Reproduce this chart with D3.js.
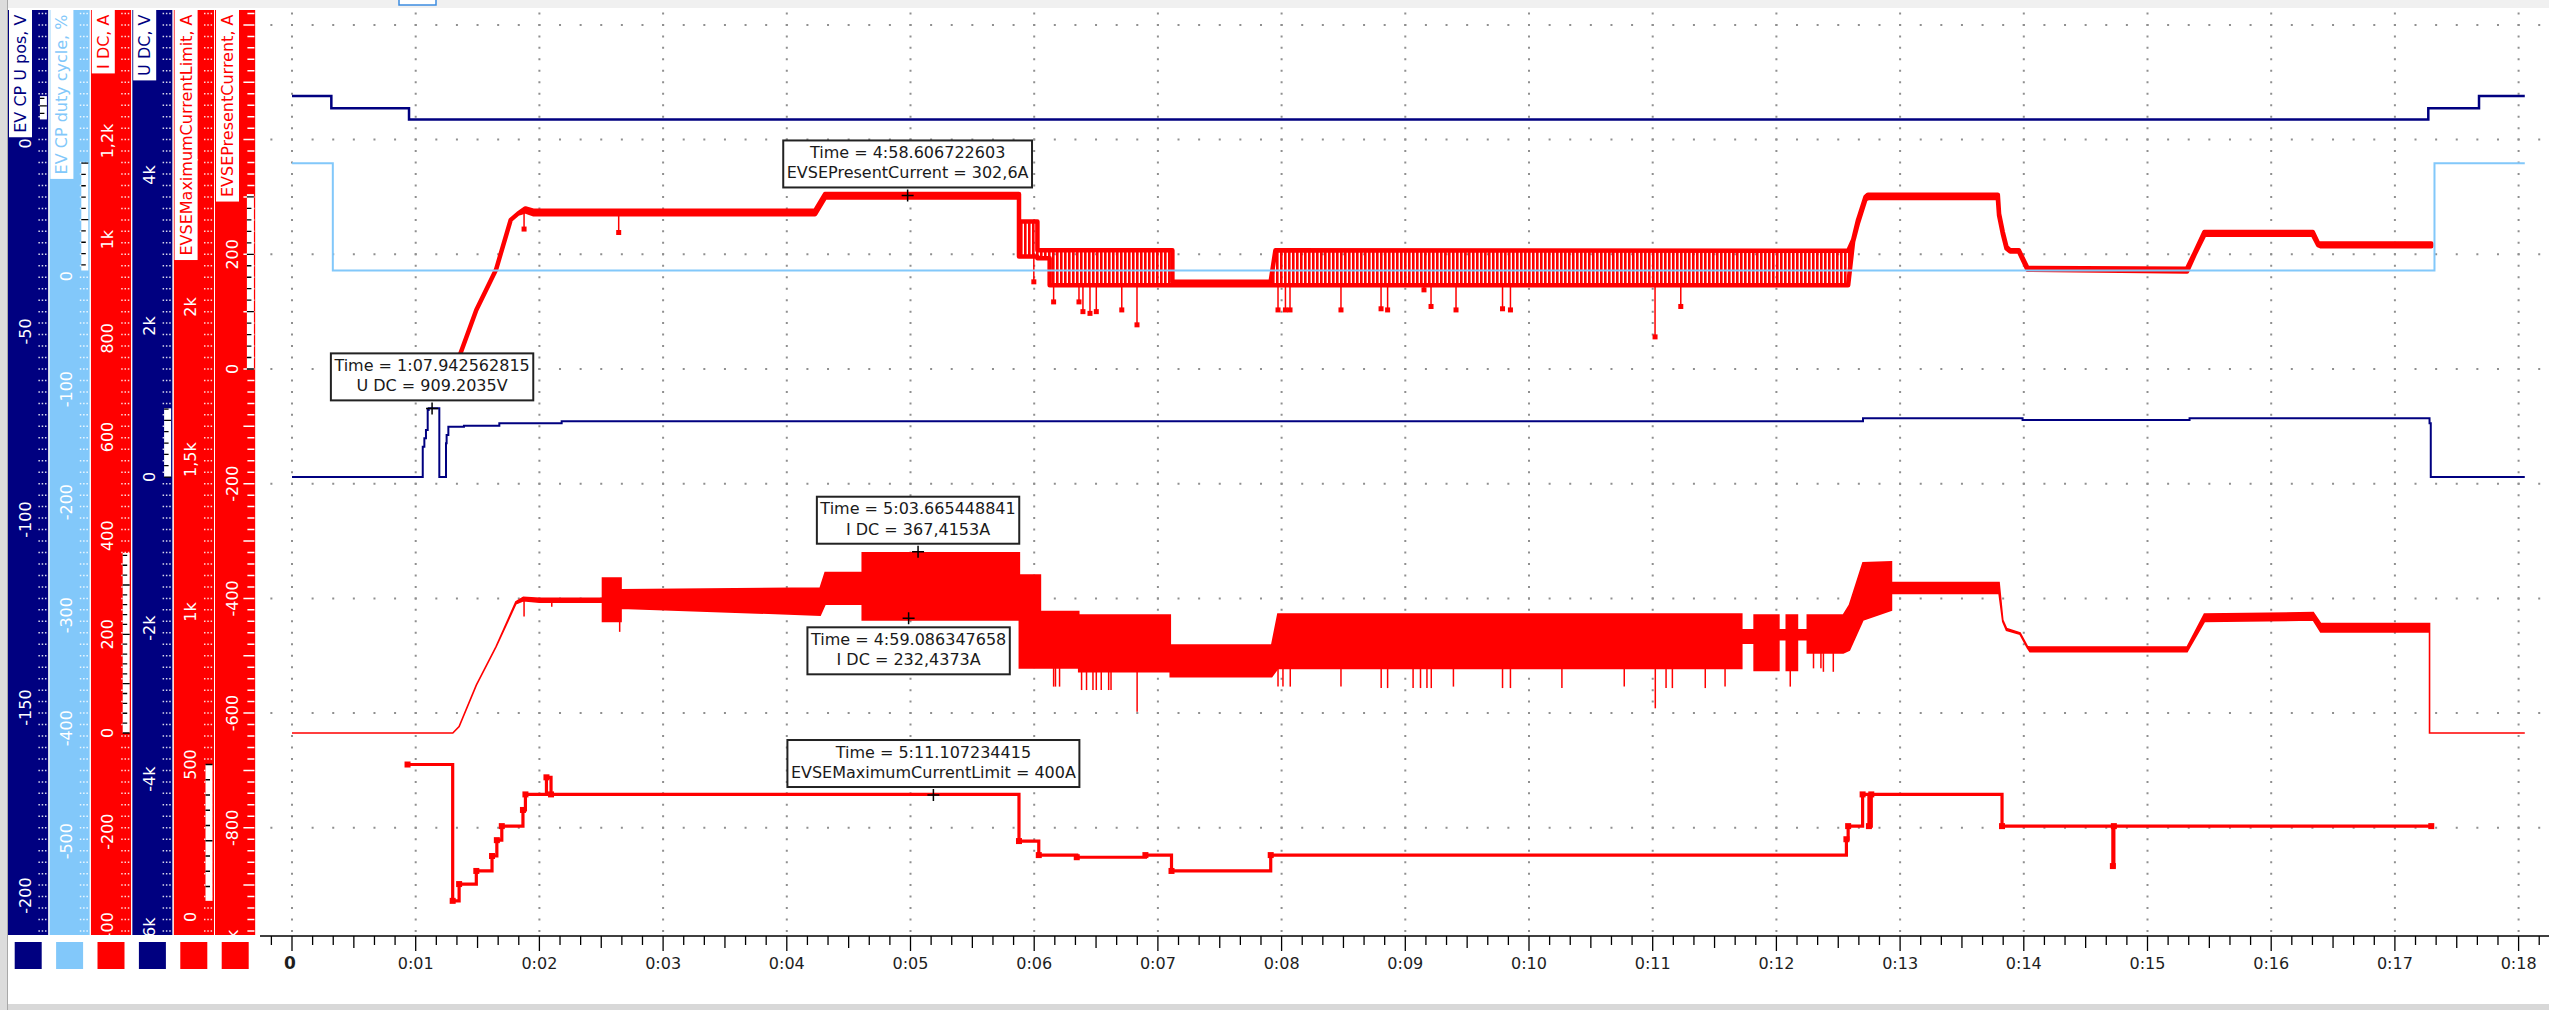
<!DOCTYPE html>
<html lang="en">
<head>
<meta charset="UTF-8" />
<title>charging trace</title>
<style>
  * { margin:0; padding:0; box-sizing:border-box; }
  body { background:#fff; overflow:hidden; font-family:'DejaVu Sans',Verdana,sans-serif; }
  svg { display:block; }
  .grid { stroke:#8f8f8f; stroke-width:2; fill:none; }
  .tick-lbl { font-size:16px; fill:#fff; }
  .time-lbl { font-size:16px; fill:#1e1e1e; }
  .note text { font-size:16px; fill:#1a1a1a; }
</style>
</head>
<body>
<script src="https://d3js.org/d3.v7.min.js"></script>
<script>
  const W = 2549, H = 1010;

  // ---- signals, time in minutes ----
  const cpT = [0, 0.318, 0.946, 17.27, 17.68, 18.05];
  const cpV = [12.6, 9.4, 6.4, 9.4, 12.6, 12.6];

  const dutyT = [0, 0.33, 17.32, 18.05];
  const dutyV = [100, 5, 100, 100];

  const udcT = [0, 1.057, 1.070, 1.083, 1.097, 1.105, 1.191, 1.245, 1.250, 1.264, 1.390, 1.676, 2.180, 12.70, 13.99, 15.34, 17.28, 17.29, 18.05];
  const udcV = [0, 401, 512, 622, 887, 910, 0, 446, 556, 666, 680, 711, 740, 777, 755, 777, 711, 0, 0];

  // I DC is noisy: upper / lower edge of the band
  const idcT  = [0, 1.30, 1.351, 1.49, 1.65, 1.81, 1.87, 2.0, 2.51, 2.51, 2.66, 2.66, 4.27, 4.31, 4.61, 4.61, 5.88, 5.88, 6.05, 6.05, 6.36, 6.36, 7.10, 7.10, 7.92, 7.97, 11.72, 11.72, 11.82, 11.82, 12.02, 12.02, 12.08, 12.08, 12.17, 12.17, 12.25, 12.25, 12.54, 12.59, 12.70, 12.93, 12.93, 13.80, 13.83, 13.86, 13.97, 14.03, 14.05, 15.32, 15.46, 16.34, 16.40, 17.28, 17.28, 18.05];
  const idcHi = [0, 0, 13, 97, 175, 266, 275, 273, 273, 314, 314, 290, 294, 325, 325, 365, 365, 320, 320, 246, 246, 239, 239, 178, 178, 241, 241, 209, 209, 239, 239, 209, 209, 239, 239, 209, 209, 239, 239, 259, 345, 347, 305, 305, 229, 212, 203, 175, 174, 174, 241, 244, 222, 222, 0, 0];
  const idcLo = [0, 0, 13, 97, 175, 262, 268, 265, 265, 226, 226, 253, 239, 261, 261, 229, 229, 132, 132, 132, 132, 124, 124, 114, 114, 131, 131, 182, 182, 127, 127, 189, 189, 127, 127, 189, 189, 162, 162, 168, 229, 249, 283, 283, 226, 208, 200, 172, 165, 165, 226, 229, 205, 205, 0, 0];
  const idcDipT = [1.876, 2.10, 2.649, 6.157, 6.172, 6.205, 6.383, 6.423, 6.475, 6.502, 6.542, 6.602, 6.621, 6.832, 7.971, 8.011, 8.070, 8.480, 8.805, 8.857, 9.063, 9.123, 9.175, 9.210, 9.389, 9.786, 9.850, 10.266, 10.770, 11.021, 11.108, 11.159, 11.425, 11.585, 12.112, 12.30, 12.36, 12.38, 12.46];
  const idcDipV = [236, 256, 205, 94, 94, 94, 87, 87, 87, 87, 87, 87, 87, 43, 94, 94, 94, 94, 91, 91, 91, 91, 91, 91, 94, 91, 91, 91, 94, 50, 91, 91, 91, 94, 94, 131, 131, 124, 124];

  const presT  = [1.30, 1.363, 1.49, 1.649, 1.768, 1.827, 1.887, 1.95, 4.229, 4.309, 5.877, 5.877, 6.026, 6.026, 6.125, 6.125, 7.117, 7.117, 7.911, 7.95, 12.58, 12.62, 12.66, 12.72, 12.74, 13.79, 13.80, 13.83, 13.86, 13.89, 13.96, 14.03, 15.319, 15.38, 15.46, 16.336, 16.38, 16.40, 17.294];
  const presHi = [0, 28, 103, 173, 260, 271, 280, 276, 276, 305, 305, 257, 257, 207, 207, 207, 207, 152, 152, 207, 206, 225, 260, 300, 304, 304, 271, 239, 213, 207, 207, 176, 175, 202, 239, 239, 219, 219, 219];
  const presLo = [0, 28, 103, 173, 260, 271, 275, 270, 270, 299, 299, 196, 196, 193, 193, 146, 146, 146, 146, 146, 146, 222, 255, 296, 298, 298, 268, 236, 210, 205, 205, 173, 170, 199, 234, 234, 216, 214, 214];
  const presDipT = [1.876, 2.641, 5.997, 6.157, 6.362, 6.394, 6.451, 6.502, 6.708, 6.831, 7.971, 8.031, 8.068, 8.480, 8.804, 8.857, 9.151, 9.208, 9.410, 9.786, 9.850, 11.019, 11.227];
  const presDipV = [244, 238, 152, 117, 117, 100, 97, 100, 103, 77, 103, 103, 103, 103, 105, 103, 138, 109, 103, 105, 103, 56, 109];

  const maxT = [0.934, 1.299, 1.351, 1.490, 1.617, 1.656, 1.696, 1.867, 1.887, 2.057, 2.094, 5.877, 6.037, 6.344, 6.899, 7.110, 7.912, 12.566, 12.58, 12.697, 12.748, 12.767, 13.824, 14.720, 14.728, 17.294];
  const maxV = [500, 53, 108, 151, 200, 252, 298, 351, 402, 458, 402, 249, 203, 196, 203, 151, 203, 255, 298, 402, 298, 402, 298, 167, 298, 298];

  // ---- left axis strips ----
  const axisNames = ['EV CP U pos, V', 'EV CP duty cycle, %', 'I DC, A', 'U DC, V', 'EVSEMaximumCurrentLimit, A', 'EVSEPresentCurrent, A'];
  const axisColors = ['#000080', '#82c8fa', '#ff0000', '#000080', '#ff0000', '#ff0000'];
  const axisMin = [-210.5, -583, -409.5, -6065, -59, -987];
  const axisMax = [35.5, 235.5, 1465.5, 6185, 2974, 626];
  const cpTicks = [0, -50, -100, -150, -200];
  const dutyTicks = [200, 100, 0, -100, -200, -300, -400, -500];
  const idcTicks = [1200, 1000, 800, 600, 400, 200, 0, -200, -400];
  const udcTicks = [6000, 4000, 2000, 0, -2000, -4000, -6000];
  const maxTicks = [2500, 2000, 1500, 1000, 500, 0];
  const presTicks = [600, 400, 200, 0, -200, -400, -600, -800, -1000];
  const rulerStep = [2, 10, 20, 150, 50, 20];

  // ---- time axis ----
  const timeTicks = [0, 1, 2, 3, 4, 5, 6, 7, 8, 9, 10, 11, 12, 13, 14, 15, 16, 17, 18];
  const timeLabels = ['0', '0:01', '0:02', '0:03', '0:04', '0:05', '0:06', '0:07', '0:08', '0:09', '0:10', '0:11', '0:12', '0:13', '0:14', '0:15', '0:16', '0:17', '0:18'];

  // ---- measurement cursors ----
  const curTime = ['4:58.606722603', '1:07.942562815', '5:03.665448841', '4:59.086347658', '5:11.107234415'];
  const curAxis = [5, 3, 2, 2, 4];
  const curValue = [302.6, 909.2035, 367.4153, 232.4373, 400];
  const curText = ['EVSEPresentCurrent = 302,6A', 'U DC = 909.2035V', 'I DC = 367,4153A', 'I DC = 232,4373A', 'EVSEMaximumCurrentLimit = 400A'];
  const curBelow = [false, false, false, true, false];

  const xs = d3.scaleLinear().domain([0, 18]).range([292, 2518.6]);
  const ys = axisMin.map((m, i) => d3.scaleLinear().domain([m, axisMax[i]]).range([935, 10]));
  const [yCp, yDuty, yIdc, yUdc, yMax, yPres] = ys;

  const svg = d3.select('body').append('svg').attr('width', W).attr('height', H);
  const defs = svg.append('defs');
  defs.append('clipPath').attr('id', 'plotclip').append('rect')
      .attr('x', 258).attr('y', 9).attr('width', W - 258).attr('height', 927);
  // dense sample lines of the present-current trace
  defs.append('pattern').attr('id', 'samples').attr('patternUnits', 'userSpaceOnUse')
      .attr('width', 4).attr('height', 10)
    .append('rect').attr('width', 2.6).attr('height', 10).attr('fill', '#ff0000');

  // frame bits
  svg.append('rect').attr('width', W).attr('height', 8).attr('fill', '#f0f0f0');
  svg.append('rect').attr('x', 399).attr('y', -1).attr('width', 37).attr('height', 6)
      .attr('fill', '#fff').attr('stroke', '#3c8ce0').attr('stroke-width', 1.5);
  svg.append('rect').attr('y', 1004).attr('width', W).attr('height', 6).attr('fill', '#d8d8d8');
  svg.append('rect').attr('width', 7).attr('height', H).attr('fill', '#dcdcdc');
  svg.append('line').attr('x1', 7.5).attr('x2', 7.5).attr('y1', 0).attr('y2', H).attr('stroke', '#a8a8a8');

  // ---- grid ----
  const xStep = xs(1 / 6) - xs(0);
  const yStep = yPres(0) - yPres(20);
  const grid = svg.append('g').attr('clip-path', 'url(#plotclip)');
  grid.selectAll('line.row').data([600, 400, 200, 0, -200, -400, -600, -800]).join('line')
      .attr('class', 'grid')
      .attr('x1', xs(-1 / 6) - 1).attr('x2', W)
      .attr('y1', d => yPres(d)).attr('y2', d => yPres(d))
      .attr('stroke-dasharray', `2 ${xStep - 2}`);
  grid.selectAll('line.col').data(timeTicks).join('line')
      .attr('class', 'grid')
      .attr('x1', d => xs(d)).attr('x2', d => xs(d))
      .attr('y1', yPres(620) - 1).attr('y2', yPres(-980) + 1)
      .attr('stroke-dasharray', `2 ${yStep - 2}`);

  // ---- signals ----
  const plot = svg.append('g').attr('clip-path', 'url(#plotclip)');
  const stepLine = (T, y) => d3.line().curve(d3.curveStepAfter).x((d, i) => xs(T[i])).y(d => y(d));
  const band = (T, LO, y) => d3.area().x((d, i) => xs(T[i])).y0((d, i) => y(LO[i])).y1(d => y(d));
  function loAt(T, LO, t) { return LO[Math.max(0, d3.bisectRight(T, t) - 1)]; }

  // I DC
  plot.append('path').attr('d', band(idcT, idcLo, yIdc)(idcHi))
      .attr('fill', '#ff0000').attr('stroke', '#ff0000').attr('stroke-width', 1.6);
  plot.append('g').selectAll('line').data(idcDipT).join('line')
      .attr('x1', d => xs(d)).attr('x2', d => xs(d))
      .attr('y1', d => yIdc(loAt(idcT, idcLo, d))).attr('y2', (d, i) => yIdc(idcDipV[i]))
      .attr('stroke', '#ff0000').attr('stroke-width', 1.5);

  // EVSEMaximumCurrentLimit
  plot.append('path').attr('d', stepLine(maxT, yMax)(maxV))
      .attr('fill', 'none').attr('stroke', '#ff0000').attr('stroke-width', 3.2);
  plot.append('g').selectAll('rect').data(maxV).join('rect')
      .attr('x', (d, i) => xs(maxT[i]) - 3).attr('y', d => yMax(d) - 3)
      .attr('width', 6).attr('height', 6).attr('fill', '#ff0000');

  // EVSEPresentCurrent
  plot.append('path').attr('d', band(presT, presLo, yPres)(presHi))
      .attr('fill', 'url(#samples)').attr('stroke', '#ff0000').attr('stroke-width', 4.5)
      .attr('stroke-linejoin', 'round');
  const dips = plot.append('g');
  dips.selectAll('line').data(presDipT).join('line')
      .attr('x1', d => xs(d)).attr('x2', d => xs(d))
      .attr('y1', d => yPres(loAt(presT, presLo, d))).attr('y2', (d, i) => yPres(presDipV[i]))
      .attr('stroke', '#ff0000').attr('stroke-width', 1.5);
  dips.selectAll('rect').data(presDipT).join('rect')
      .attr('x', d => xs(d) - 2.5).attr('y', (d, i) => yPres(presDipV[i]) - 2.5)
      .attr('width', 5).attr('height', 5).attr('fill', '#ff0000');

  // U DC, CP voltage, duty cycle
  plot.append('path').attr('d', stepLine(udcT, yUdc)(udcV))
      .attr('fill', 'none').attr('stroke', '#000080').attr('stroke-width', 2);
  plot.append('path').attr('d', stepLine(cpT, yCp)(cpV))
      .attr('fill', 'none').attr('stroke', '#000080').attr('stroke-width', 2.5);
  plot.append('path').attr('d', stepLine(dutyT, yDuty)(dutyV))
      .attr('fill', 'none').attr('stroke', '#82c8fa').attr('stroke-width', 2);

  // ---- time axis ----
  const axisY = 936;
  const xa = svg.append('g');
  xa.append('line').attr('x1', 260).attr('x2', W).attr('y1', axisY).attr('y2', axisY)
      .attr('stroke', '#000').attr('stroke-width', 1.5);
  xa.selectAll('line.t').data(d3.range(-1, 18 * 6 + 2)).join('line')
      .attr('x1', k => xs(k / 6)).attr('x2', k => xs(k / 6))
      .attr('y1', axisY).attr('y2', k => axisY + (k % 6 === 0 ? 15 : k % 3 === 0 ? 12 : 9))
      .attr('stroke', '#000').attr('stroke-width', 1.3);
  xa.selectAll('text').data(timeTicks).join('text')
      .attr('class', 'time-lbl')
      .attr('x', d => xs(d) - (d === 0 ? 2 : 0)).attr('y', 963)
      .attr('text-anchor', 'middle').attr('dominant-baseline', 'central')
      .style('font-weight', d => d === 0 ? 'bold' : null)
      .style('font-size', d => d === 0 ? '17px' : null)
      .text((d, i) => timeLabels[i]);

  // ---- left strips ----
  const fmtTick = v => Math.abs(v) >= 1000 ? String(v / 1000).replace('.', ',') + 'k' : String(v);
  const stripTicks = [cpTicks, dutyTicks, idcTicks, udcTicks, maxTicks, presTicks];
  const stripExtent = [
    d3.extent(cpV), d3.extent(dutyV), [d3.min(idcLo), d3.max(idcHi)],
    d3.extent(udcV), d3.extent(maxV), [d3.min(presLo), d3.max(presHi)]
  ];
  const rows = d3.range(620, -1000, -20);
  const stripW = 40.4;
  axisNames.forEach((name, i) => {
    const x0 = 8 + i * 41.4, x1 = x0 + stripW, col = axisColors[i], y = ys[i];
    defs.append('clipPath').attr('id', `sclip${i}`).append('rect')
        .attr('x', x0).attr('y', 10).attr('width', stripW).attr('height', 925);
    const g = svg.append('g').attr('clip-path', `url(#sclip${i})`);
    g.append('rect').attr('x', x0).attr('y', 10).attr('width', stripW).attr('height', 925).attr('fill', col);

    if (i === 5) {
      g.selectAll('line.tk').data(rows).join('line')
          .attr('x1', v => x1 - (v % 100 === 0 ? 12 : 8)).attr('x2', x1 - 1)
          .attr('y1', v => yPres(v)).attr('y2', v => yPres(v))
          .attr('stroke', '#fff').attr('stroke-width', 1.5);
    } else {
      g.selectAll('line.tk').data(rows).join('line')
          .attr('x1', x1 - 10).attr('x2', x1 - 1)
          .attr('y1', v => yPres(v)).attr('y2', v => yPres(v))
          .attr('stroke', '#fff').attr('stroke-width', 1.5).attr('stroke-dasharray', '1.5 1.8')
          .attr('opacity', 0.85);
    }

    g.selectAll('text.tl').data(stripTicks[i]).join('text')
        .attr('class', 'tick-lbl')
        .attr('transform', d => `translate(${x0 + 17},${y(d)}) rotate(-90)`)
        .attr('text-anchor', 'middle').attr('dominant-baseline', 'central')
        .text(fmtTick);

    // range ruler of the signal on its own axis
    const [lo, hi] = stripExtent[i], st = rulerStep[i], rx = x1 - 8.5;
    g.append('rect').attr('x', rx).attr('y', y(hi)).attr('width', 7).attr('height', y(lo) - y(hi)).attr('fill', '#fff');
    g.selectAll('line.rt').data(d3.range(Math.ceil(lo / st) * st, hi + 1e-9, st)).join('line')
        .attr('x1', rx).attr('x2', d => rx + (Math.round(d / st) % 5 === 0 ? 7 : 4.5))
        .attr('y1', d => y(d)).attr('y2', d => y(d))
        .attr('stroke', '#000').attr('stroke-width', 1.3);

    const tg = g.append('g').attr('transform', `translate(${x0 + 12.5},10) rotate(-90)`);
    const tt = tg.append('text').attr('x', -4.5).attr('text-anchor', 'end')
        .attr('dominant-baseline', 'central').attr('font-size', 16).attr('fill', col).text(name);
    const L = tt.node().getComputedTextLength();
    tg.insert('rect', 'text').attr('x', -L - 9).attr('y', -11.5).attr('width', L + 9).attr('height', 23).attr('fill', '#fff');

    svg.append('rect').attr('x', x0 + stripW / 2 - 13.5).attr('y', 942).attr('width', 27).attr('height', 27).attr('fill', col);
  });

  // ---- cursors and value boxes ----
  const parseT = s => { const [m, sec] = s.split(':'); return +m + (+sec) / 60; };
  const notes = svg.append('g').attr('class', 'note');
  curTime.forEach((ts, i) => {
    const cx = xs(parseT(ts)), cy = ys[curAxis[i]](curValue[i]);
    notes.append('path').attr('d', `M${cx - 6},${cy}H${cx + 6}M${cx},${cy - 6}V${cy + 6}`)
        .attr('stroke', '#000').attr('stroke-width', 1.5);
    const top = curBelow[i] ? cy + 9 : cy - 8 - 47;
    const g = notes.append('g');
    const rect = g.append('rect');
    const t1 = g.append('text').attr('x', cx).attr('y', top + 12).attr('text-anchor', 'middle')
        .attr('dominant-baseline', 'central').text('Time = ' + ts);
    const t2 = g.append('text').attr('x', cx).attr('y', top + 32.5).attr('text-anchor', 'middle')
        .attr('dominant-baseline', 'central').text(curText[i]);
    const w = Math.max(t1.node().getComputedTextLength(), t2.node().getComputedTextLength()) + 7;
    rect.attr('x', cx - w / 2).attr('y', top).attr('width', w).attr('height', 47)
        .attr('fill', '#fff').attr('stroke', '#222').attr('stroke-width', 2);
  });
</script>
</body>
</html>
